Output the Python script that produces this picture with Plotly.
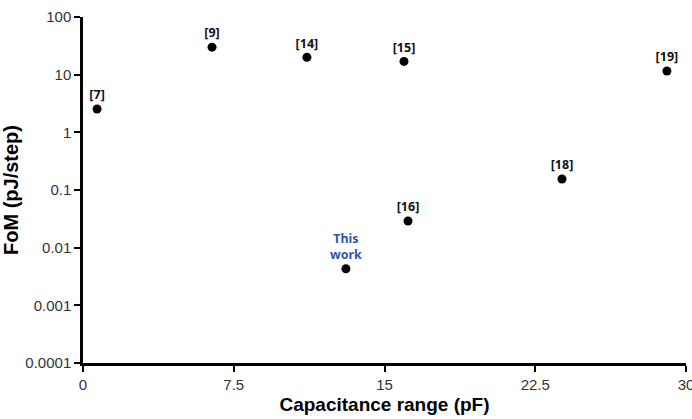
import plotly.graph_objects as go

refs = ["[7]", "[9]", "[14]", "[15]", "[19]", "[18]", "[16]", "This<br>work"]
cap_range = [0.7, 6.42, 11.14, 15.97, 29.05, 23.83, 16.17, 13.08]
fom = [2.54, 30, 20, 17, 11.6, 0.155, 0.029, 0.0043]
label_colors = ["#111111"] * 7 + ["#2f55a8"]

y_tickvals = [1e-4, 1e-3, 1e-2, 1e-1, 1, 10, 100]
y_ticktext = ["0.0001", "0.001", "0.01", "0.1", "1", "10", "100"]
x_tickvals = [0, 7.5, 15, 22.5, 30]
x_ticktext = ["0", "7.5", "15", "22.5", "30"]

fig = go.Figure()
fig.add_trace(go.Scatter(
    x=cap_range, y=fom, mode="markers+text",
    text=["<b>" + t + "</b>" for t in refs],
    textposition="top center",
    textfont=dict(family="Noto Sans, Arial", size=12.5, color=label_colors),
    marker=dict(color="black", size=9),
    showlegend=False, cliponaxis=False,
))

fig.update_layout(
    width=692, height=419,
    margin=dict(l=83, r=6, t=17, b=56, autoexpand=False),
    paper_bgcolor="white", plot_bgcolor="white",
    font=dict(family="Liberation Sans, Arial", color="black"),
)
fig.update_xaxes(
    range=[0, 30], tickvals=x_tickvals, ticktext=x_ticktext,
    showgrid=False, zeroline=False, showline=True, linecolor="black", linewidth=2.5,
    ticks="outside", ticklen=6, tickwidth=2, tickcolor="black",
    tickfont=dict(size=15, color="#333"), ticklabeloverflow="allow",
    automargin=False,
    title=dict(text="<b>Capacitance range (pF)</b>", font=dict(size=19), standoff=6),
)
fig.update_yaxes(
    type="log", range=[-4, 2], tickvals=y_tickvals, ticktext=y_ticktext,
    showgrid=False, zeroline=False, showline=True, linecolor="black", linewidth=2.5,
    ticks="outside", ticklen=6, tickwidth=2, tickcolor="black",
    tickfont=dict(size=15, color="#333"), automargin=False,
    title=dict(text="<b>FoM (pJ/step)</b>", font=dict(size=20), standoff=4),
)

fig.write_html("out.html")
